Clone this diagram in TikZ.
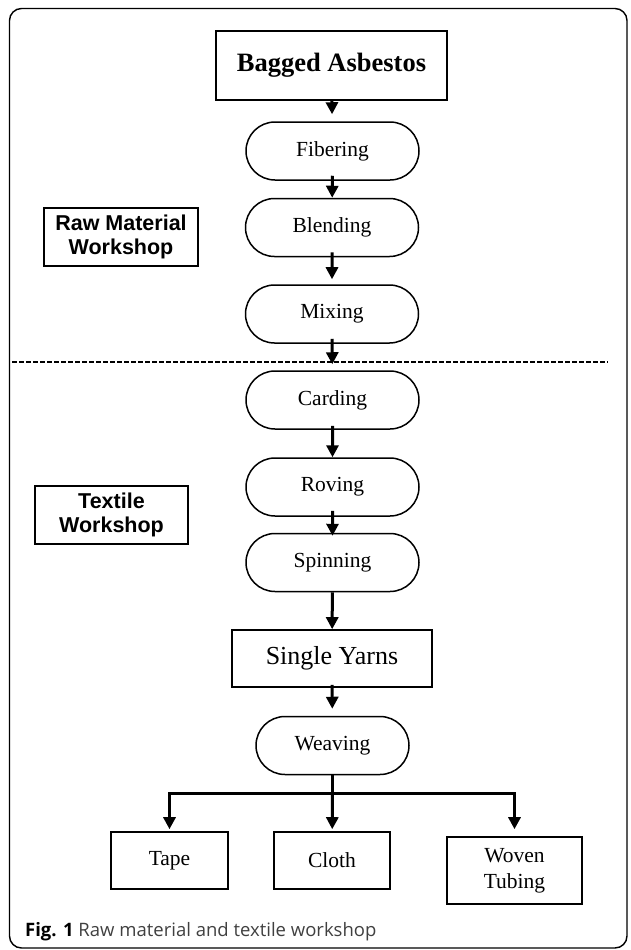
\documentclass[tikz,border=0pt]{standalone}
\usepackage{fontspec}
\setmainfont{Liberation Serif}
\newfontfamily\labelfont{Liberation Sans}
\newfontfamily\capfont{Open Sans}
\usetikzlibrary{shapes.misc,arrows.meta}
\begin{document}
\begin{tikzpicture}[x={(1pt,0pt)},y={(0pt,-1pt)},
  stadium/.style={draw,line width=1.5pt,rounded rectangle,minimum width=173pt,minimum height=58pt,inner sep=0pt,font=\fontsize{21.5}{24}\selectfont},
  boxnode/.style={draw,line width=1.6pt,rectangle,inner sep=0pt,align=center},
  sidebox/.style={draw,line width=1.5pt,rectangle,inner sep=0pt,align=center,font=\labelfont\bfseries\fontsize{21.5}{23.5}\selectfont},
  arr/.style={line width=3pt,line join=miter,-{Triangle[length=12pt,width=12pt]}}]
\useasboundingbox (0,0) rectangle (630,950);
% frame
\draw[line width=1.4pt,rounded corners=12pt] (9.5,8.5) rectangle (627,948);
% main chain
\node[boxnode,minimum width=231pt,minimum height=69pt,font=\bfseries\fontsize{26.5}{30}\selectfont] (bag) at (331.5,65.5) {Bagged Asbestos};
\node[stadium] (fib) at (332.5,151) {Fibering};
\node[stadium] (ble) at (332,227.5) {Blending};
\node[stadium] (mix) at (332,314) {Mixing};
\node[stadium] (car) at (332.5,400) {Carding};
\node[stadium] (rov) at (332.5,487) {Roving};
\node[stadium] (spi) at (332.5,562.5) {Spinning};
\node[boxnode,minimum width=200pt,minimum height=57pt,font=\fontsize{26}{30}\selectfont] (syn) at (332,658.5) {Single Yarns};
\node[stadium,minimum width=153pt] (wea) at (332.5,745.5) {Weaving};
\node[boxnode,minimum width=117pt,minimum height=57pt,font=\fontsize{21.5}{26}\selectfont] (tape) at (169.5,860.5) {Tape};
\node[boxnode,minimum width=116pt,minimum height=57pt,font=\fontsize{21.5}{26}\selectfont] (cloth) at (332,860.5) {Cloth};
\node[boxnode,minimum width=135pt,minimum height=67pt,font=\fontsize{21.5}{26}\selectfont] (wov) at (514.5,870.5) {Woven\\Tubing};
% side labels
\node[sidebox,minimum width=154pt,minimum height=58pt] (raw) at (121,237) {Raw Material\\Workshop};
\node[sidebox,minimum width=153pt,minimum height=58pt] (tex) at (111.5,515) {Textile\\Workshop};
% dashed separator
\coordinate (dl) at (12,362);
\coordinate (dr) at (608,362);
\draw[line width=2pt,dash pattern=on 4.5pt off 2.5pt] (dl) -- (dr);
% arrows
\draw[arr,shorten >=7pt] (bag) -- (fib);
\draw[arr,shorten <=-5pt] (fib) -- (ble);
\draw[arr,shorten <=-5pt,shorten >=5pt] (ble) -- (mix);
\draw[arr,shorten <=-5pt,shorten >=6pt] (mix) -- (car);
\draw[arr,shorten <=-4pt] (car) -- (rov);
\draw[arr,shorten <=-6pt,shorten >=-3pt] (rov) -- (spi);
\draw[arr] (spi) -- (syn);
\draw[arr,shorten <=-3pt,shorten >=7pt] (syn) -- (wea);
% branch
\coordinate (bar) at (332.5,793);
\draw[line width=3pt] (wea.south) -- (bar);
\draw[arr,shorten >=2pt] (bar) -| (tape);
\draw[arr,shorten >=2pt] (bar) -- (cloth);
\draw[arr,shorten >=7pt] (bar) -| (wov);
% caption
\node[anchor=base west,inner sep=0pt,font=\capfont\fontsize{18.5}{22}\selectfont] (cap) at (25,936) {\textbf{Fig. 1} \textcolor[gray]{0.25}{Raw material and textile workshop}};
\end{tikzpicture}
\end{document}
